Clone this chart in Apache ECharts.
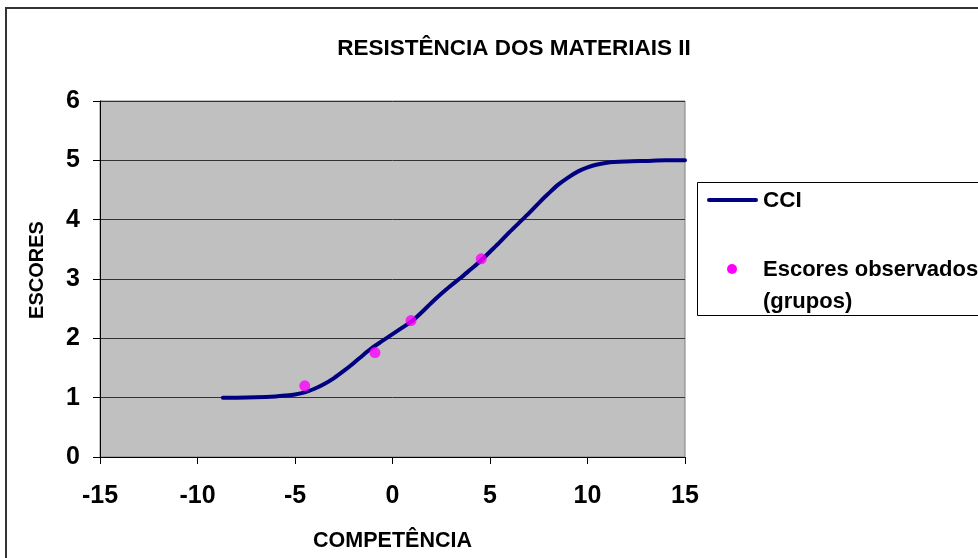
<!DOCTYPE html>
<html>
<head>
<meta charset="utf-8">
<script src="https://cdn.jsdelivr.net/npm/echarts@6/dist/echarts.min.js"></script>
<style>
  html, body { margin: 0; padding: 0; background: #fff; }
  #chart { width: 978px; height: 558px; }
</style>
</head>
<body>
<div id="chart"></div>
<script>
// Item characteristic curve (CCI) and observed group scores
const chartTitle = 'RESISTÊNCIA DOS MATERIAIS II';
const xAxisTitle = 'COMPETÊNCIA';
const yAxisTitle = 'ESCORES';
const curveName = 'CCI';
const pointsName = 'Escores observados\n(grupos)';

// CCI curve: competence -> expected score
const cciX = [-8.7, -8, -7, -6, -5.5, -5, -4.5, -4, -3.5, -3, -2.5, -2, -1.5, -1, -0.5, 0, 0.5, 1, 1.5, 2, 2.5, 3, 3.5, 4, 4.5, 5, 5.5, 6, 6.5, 7, 7.5, 8, 8.5, 9, 9.5, 10, 10.5, 11, 12, 13, 14, 15];
const cciY = [1.00, 1.00, 1.005, 1.02, 1.035, 1.055, 1.09, 1.15, 1.23, 1.33, 1.45, 1.58, 1.72, 1.85, 1.96, 2.07, 2.18, 2.29, 2.44, 2.60, 2.75, 2.89, 3.02, 3.16, 3.30, 3.46, 3.62, 3.79, 3.95, 4.11, 4.28, 4.44, 4.59, 4.71, 4.81, 4.88, 4.93, 4.96, 4.98, 4.99, 5.00, 5.00];

// Observed group scores
const obsX = [-4.5, -0.9, 0.95, 4.55];
const obsY = [1.2, 1.76, 2.3, 3.34];

const FONT = '"Liberation Sans", Arial, sans-serif';
const NAVY = '#000080';
const MAGENTA = '#FF00FF';

const chart = echarts.init(document.getElementById('chart'), null, { renderer: 'canvas' });

const tickStyle = { color: '#000', fontFamily: FONT, fontWeight: 'bold', fontSize: 25 };
const nameStyle = { color: '#000', fontFamily: FONT, fontWeight: 'bold', fontSize: 21.5 };

chart.setOption({
  backgroundColor: '#fff',
  animation: false,
  title: {
    text: chartTitle,
    left: 509,
    top: 32,
    textAlign: 'center',
    textStyle: { color: '#000', fontFamily: FONT, fontWeight: 'bold', fontSize: 22.5 }
  },
  grid: {
    left: 100, right: 293, top: 101, bottom: 101,
    show: true,
    backgroundColor: '#C0C0C0',
    borderColor: '#808080',
    borderWidth: 1
  },
  xAxis: {
    type: 'value',
    min: -15, max: 15, interval: 5,
    name: xAxisTitle,
    nameLocation: 'middle',
    nameGap: 73,
    nameTextStyle: nameStyle,
    axisLine: { show: true, onZero: false, lineStyle: { color: '#000', width: 1 } },
    axisTick: { show: true, inside: false, length: 7, lineStyle: { color: '#000' } },
    axisLabel: Object.assign({ margin: 27 }, tickStyle),
    splitLine: { show: false }
  },
  yAxis: {
    type: 'value',
    min: 0, max: 6, interval: 1,
    axisLine: { show: true, onZero: false, lineStyle: { color: '#000', width: 1 } },
    axisTick: { show: true, inside: false, length: 7, lineStyle: { color: '#000' } },
    axisLabel: Object.assign({ margin: 20 }, tickStyle),
    splitLine: { show: true, lineStyle: { color: '#333', width: 1 } }
  },
  series: [
    {
      name: curveName,
      type: 'line',
      data: cciX.map((x, i) => [x, cciY[i]]),
      smooth: 0.3,
      showSymbol: false,
      symbol: 'none',
      lineStyle: { color: NAVY, width: 4, cap: 'round', join: 'round' },
      clip: false,
      z: 3
    },
    {
      name: pointsName,
      type: 'scatter',
      data: obsX.map((x, i) => [x, obsY[i]]),
      symbol: 'circle',
      symbolSize: 11,
      itemStyle: { color: MAGENTA },
      z: 4
    }
  ],
  graphic: [
    // outer chart frame
    {
      type: 'rect', z: 0, silent: true,
      shape: { x: 6, y: 8, width: 1000, height: 600 },
      style: { fill: 'none', stroke: '#333', lineWidth: 2 }
    },
    // vertical axis title
    {
      type: 'text', x: 37, y: 270, rotation: Math.PI / 2,
      style: {
        text: yAxisTitle, x: 0, y: 0,
        textAlign: 'center', textVerticalAlign: 'middle',
        fill: '#000', font: 'bold 20px ' + FONT
      }
    },
    // legend box
    {
      type: 'rect', z: 5,
      shape: { x: 697.5, y: 182.5, width: 400, height: 133 },
      style: { fill: '#fff', stroke: '#000', lineWidth: 1 }
    },
    {
      type: 'line', z: 6,
      shape: { x1: 709, y1: 200, x2: 756, y2: 200 },
      style: { stroke: NAVY, lineWidth: 4, lineCap: 'round' }
    },
    {
      type: 'text', z: 6, x: 763, y: 201,
      style: {
        text: curveName, textAlign: 'left', textVerticalAlign: 'middle',
        fill: '#000', font: 'bold 22.5px ' + FONT
      }
    },
    {
      type: 'circle', z: 6,
      shape: { cx: 732, cy: 269, r: 5 },
      style: { fill: MAGENTA }
    },
    {
      type: 'text', z: 6, x: 763, y: 254,
      style: {
        text: pointsName, textAlign: 'left', textVerticalAlign: 'top',
        lineHeight: 32,
        fill: '#000', font: 'bold 22px ' + FONT
      }
    }
  ]
});
</script>
</body>
</html>
